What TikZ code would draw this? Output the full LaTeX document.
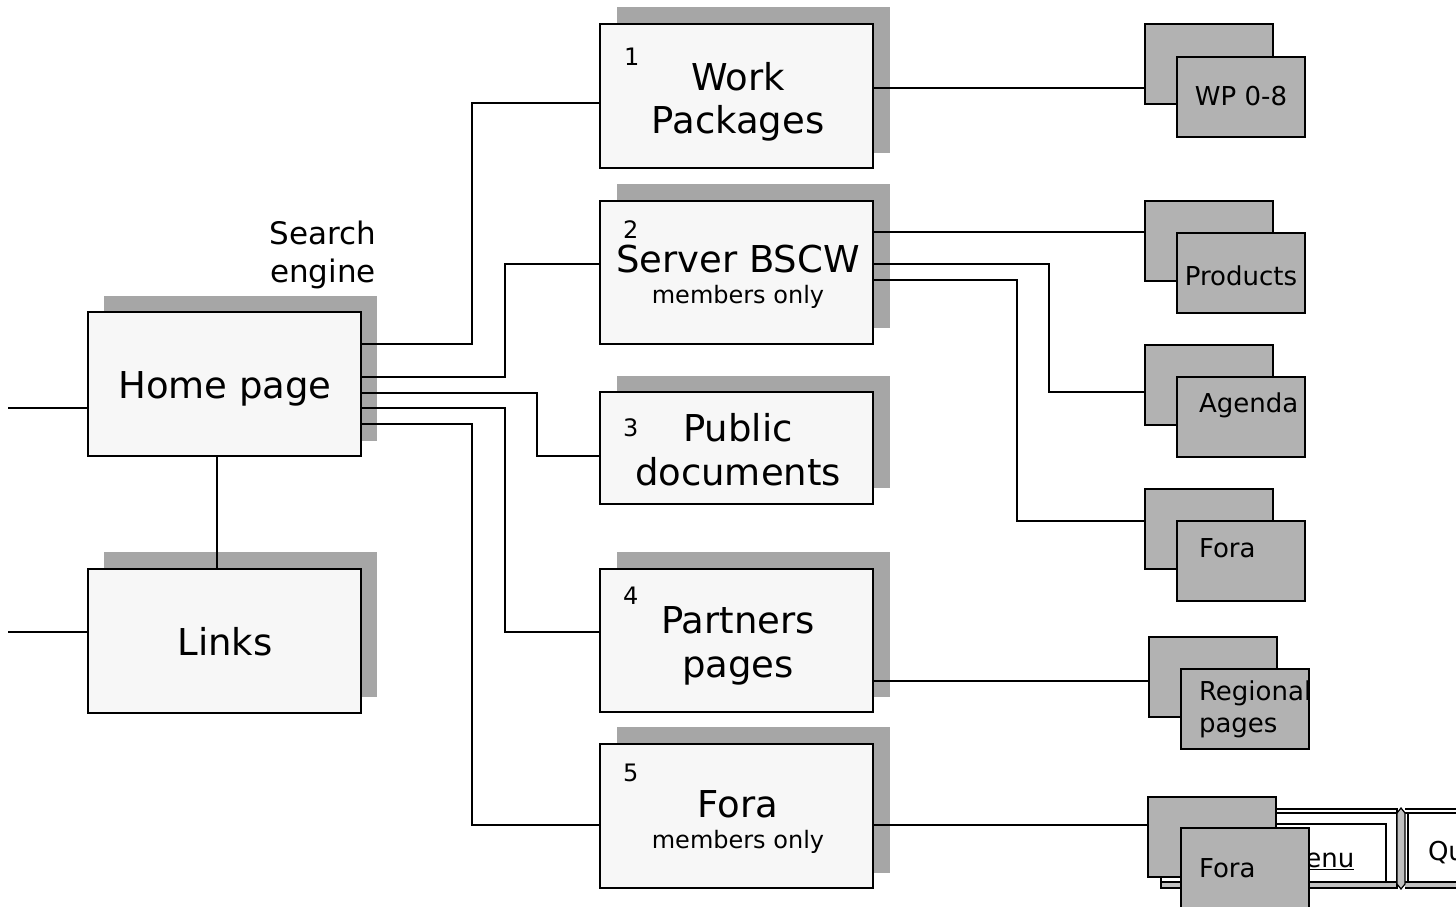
\documentclass[tikz,border=0pt]{standalone}
\usepackage{fontspec}
\setmainfont{DejaVu Sans}
\definecolor{boxfill}{HTML}{F7F7F7}
\definecolor{shadowc}{HTML}{A6A6A6}
\definecolor{subc}{HTML}{B2B2B2}
\definecolor{btngray}{HTML}{C0C0C0}
\newcommand\szL{\fontsize{37}{44}\selectfont}
\newcommand\szSE{\fontsize{31}{38}\selectfont}
\newcommand\szM{\fontsize{26}{30}\selectfont}
\newcommand\szS{\fontsize{24}{28}\selectfont}
\begin{document}
\begin{tikzpicture}[x=1pt,y=-1pt,line width=2pt,
  shadowbox/.style={fill=shadowc},
  mainbox/.style={draw=black,fill=boxfill,rectangle,inner sep=0pt,outer sep=0pt,minimum width=273pt,anchor=north west},
  subbox/.style={draw=black,fill=subc,rectangle,inner sep=0pt,outer sep=0pt,minimum width=128pt,minimum height=80pt,anchor=north west},
  lbl/.style={inner sep=0pt,anchor=base},
  lblw/.style={inner sep=0pt,anchor=base west},
  conn/.style={draw=black,line width=2pt}]
\useasboundingbox (0,0) rectangle (1456,907);

% ---------- shadows ----------
\fill[shadowbox] (104,296) rectangle (377,441);
\fill[shadowbox] (104,552) rectangle (377,697);
\fill[shadowbox] (617,7) rectangle (890,153);
\fill[shadowbox] (617,184) rectangle (890,328);
\fill[shadowbox] (617,376) rectangle (890,488);
\fill[shadowbox] (617,552) rectangle (890,697);
\fill[shadowbox] (617,727) rectangle (890,873);

% ---------- menu buttons (background) ----------
\begin{scope}[line width=1.5pt]
  \draw[fill=white] (1161,809) rectangle (1397,888);
  \fill[btngray] (1161,882) rectangle (1397,888);
  \draw (1161,882) -- (1397,882);
  \draw (1161,809) rectangle (1397,888);
  \draw[line width=1.2pt] (1161,813) -- (1397,813);
  \draw (1168,824) -- (1386,824) -- (1386,882);
  \fill[white] (1405,809) rectangle (1460,888);
  \fill[btngray] (1405,882) rectangle (1460,888);
  \draw (1405,809) -- (1460,809);
  \draw[line width=1.2pt] (1405,813) -- (1460,813);
  \draw (1405,882) -- (1460,882);
  \draw (1405,888) -- (1460,888);
  \draw[line width=1.2pt] (1408,813) -- (1408,882);
  \filldraw[fill=btngray,line width=1.2pt] (1397,813) -- (1401,808) -- (1405,813) -- (1405,884) -- (1401,889) -- (1397,884) -- cycle;
\end{scope}
\node[lblw] (menu) at (1282,867) {\szM\underline{Menu}};
\node[lblw] (quit) at (1427,860) {\szM Qu};

% ---------- main boxes ----------
\node[mainbox,minimum height=144pt] (home) at (88,312) {};
\node[mainbox,minimum height=144pt] (links) at (88,569) {};
\node[mainbox,minimum height=144pt] (wp) at (600,24) {};
\node[mainbox,minimum height=143pt] (srv) at (600,201) {};
\node[mainbox,minimum height=112pt] (pub) at (600,392) {};
\node[mainbox,minimum height=143pt] (par) at (600,569) {};
\node[mainbox,minimum height=144pt] (fora) at (600,744) {};

% ---------- sub boxes (back, front) ----------
\node[subbox] (wpB) at (1145,24) {};
\node[subbox] (wpF) at (1177,57) {};
\node[subbox] (prB) at (1145,201) {};
\node[subbox] (prF) at (1177,233) {};
\node[subbox] (agB) at (1145,345) {};
\node[subbox] (agF) at (1177,377) {};
\node[subbox] (frB) at (1145,489) {};
\node[subbox] (frF) at (1177,521) {};
\node[subbox] (rgB) at (1149,637) {};
\node[subbox] (rgF) at (1181,669) {};
\node[subbox] (fbB) at (1148,797) {};
\node[subbox,minimum height=84pt] (fbF) at (1181,828) {};

% ---------- helper coordinates ----------
\coordinate (y344) at (0,344);
\coordinate (y377) at (0,377);
\coordinate (y393) at (0,393);
\coordinate (y408) at (0,408);
\coordinate (y424) at (0,424);
\coordinate (y632) at (0,632);
\coordinate (y88) at (0,88);
\coordinate (y232) at (0,232);
\coordinate (y264) at (0,264);
\coordinate (y280) at (0,280);
\coordinate (y681) at (0,681);
\coordinate (y825) at (0,825);
\coordinate (j1) at (472,103);
\coordinate (j2) at (505,264);
\coordinate (j3) at (537,456);
\coordinate (j4) at (505,632);
\coordinate (j5) at (472,825);
\coordinate (j6) at (1049,392);
\coordinate (j7) at (1017,521);
\coordinate (v217) at (217,0);
\coordinate (homeIn) at (8,408);
\coordinate (linksIn) at (8,632);

% ---------- connectors ----------
\draw[conn] (home.east |- y344) -| (j1) -- (wp.west |- j1);
\draw[conn] (home.east |- y377) -| (j2) -- (srv.west |- j2);
\draw[conn] (home.east |- y393) -| (j3) -- (pub.west |- j3);
\draw[conn] (home.east |- y408) -| (j4) -- (par.west |- j4);
\draw[conn] (home.east |- y424) -| (j5) -- (fora.west |- j5);
\draw[conn] (homeIn) -- (home.west |- homeIn);
\draw[conn] (linksIn) -- (links.west |- linksIn);
\draw[conn] (home.south -| v217) -- (links.north -| v217);
\draw[conn] (wp.east |- y88) -- (wpB.west |- y88);
\draw[conn] (srv.east |- y232) -- (prB.west |- y232);
\draw[conn] (srv.east |- y264) -| (j6) -- (agB.west |- j6);
\draw[conn] (srv.east |- y280) -| (j7) -- (frB.west |- j7);
\draw[conn] (par.east |- y681) -- (rgB.west |- y681);
\draw[conn] (fora.east |- y825) -- (fbB.west |- y825);

% ---------- labels ----------
\node[lbl] (tHome) at (225,398) {\szL Home page};
\node[lbl] (tLinks) at (225,655) {\szL Links};
\node[lbl] (tSe1) at (323,244) {\szSE Search};
\node[lbl] (tSe2) at (323,282) {\szSE engine};

\node[lblw] (n1) at (623,66) {\szS 1};
\node[lbl] (t1a) at (738,90) {\szL Work};
\node[lbl] (t1b) at (738,133) {\szL Packages};

\node[lblw] (n2) at (622,238) {\szS 2};
\node[lbl] (t2a) at (738,272) {\szL Server BSCW};
\node[lbl] (t2b) at (738,303) {\szS members only};

\node[lblw] (n3) at (622,436) {\szS 3};
\node[lbl] (t3a) at (738,441) {\szL Public};
\node[lbl] (t3b) at (738,485) {\szL documents};

\node[lblw] (n4) at (622,604) {\szS 4};
\node[lbl] (t4a) at (738,633) {\szL Partners};
\node[lbl] (t4b) at (738,677) {\szL pages};

\node[lblw] (n5) at (622,781) {\szS 5};
\node[lbl] (t5a) at (738,817) {\szL Fora};
\node[lbl] (t5b) at (738,848) {\szS members only};

\node[lbl] (sWP) at (1241,105) {\szM WP 0-8};
\node[lbl] (sPr) at (1241,285) {\szM Products};
\node[lblw] (sAg) at (1198,412) {\szM Agenda};
\node[lblw] (sFr) at (1198,557) {\szM Fora};
\node[lblw] (sRg1) at (1198,700) {\szM Regional};
\node[lblw] (sRg2) at (1198,732) {\szM pages};
\node[lblw] (sFb) at (1198,877) {\szM Fora};
\end{tikzpicture}
\end{document}
